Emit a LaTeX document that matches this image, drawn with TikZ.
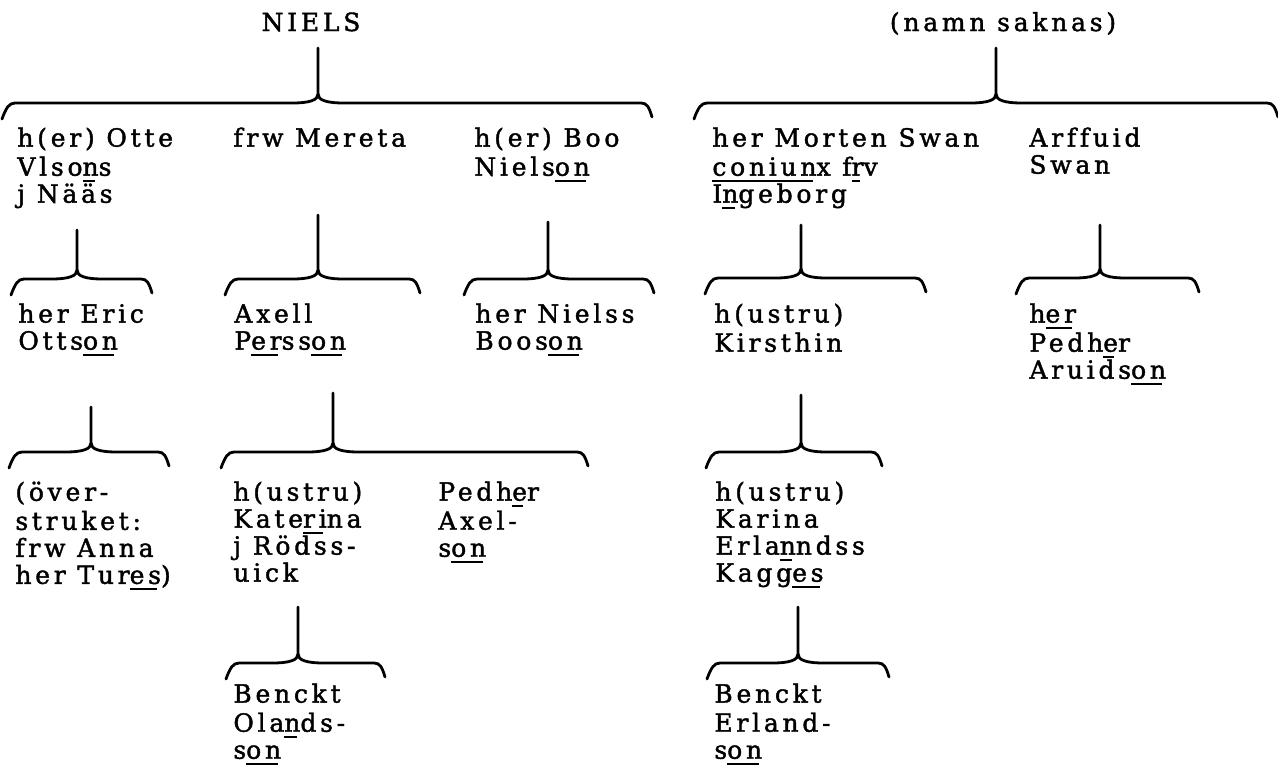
\documentclass[tikz,border=0pt]{standalone}
\usepackage{fontspec}
\setmainfont{DejaVu Serif}[LetterSpace=15,Ligatures=CommonOff,FakeBold=1.6]
\newcommand\un[1]{\setbox0\hbox{#1}\rlap{\rule[-3.2pt]{\dimexpr\wd0-1.8pt\relax}{1.2pt}}\box0}
\newcommand\fbrace[6]{%
  % #1 name, #2 left x, #3 right x, #4 stem x, #5 bar y, #6 stem top y
  \coordinate (#1-top) at (#4,#6);
  \coordinate (#1-cusp) at (#4,#5-9);
  \draw[brace] (#1-top) -- (#1-cusp)
    .. controls (#4,#5-3) and (#4-8,#5) .. (#4-26,#5) -- (#2+7,#5)
    .. controls (#2+1,#5) and (#2-2,#5+5) .. (#2-6,#5+16);
  \draw[brace] (#1-cusp)
    .. controls (#4,#5-3) and (#4+8,#5) .. (#4+26,#5) -- (#3-7,#5)
    .. controls (#3-1,#5) and (#3+1,#5+4) .. (#3+4,#5+14);
}
\begin{document}
\begin{tikzpicture}[x=0.5pt,y=-0.5pt,
  brace/.style={line width=1.4pt,line cap=round,line join=round},
  txt/.style={anchor=north west,inner sep=0pt,align=left,
    font=\fontsize{12.5}{13.5}\selectfont}]
\useasboundingbox (0,0) rectangle (1278,772);
\fill[white] (0,0) rectangle (1278,772);
\def\T#1#2#3#4{\node[txt] (#1) at (#2,#3-9.8) {\strut#4};}
% level 0
\node[anchor=base,inner sep=0pt,font=\fontsize{12.5}{13.5}\selectfont] (niels) at (311,31) {NIELS};
\node[anchor=base,inner sep=0pt,font=\fontsize{12.5}{13.5}\selectfont] (namn) at (1003,31) {(namn saknas)};
\fbrace{bA}{8}{648}{318}{103}{48}
\fbrace{bB}{700}{1274}{996}{103}{48}
% level 1
\T{otte}{17}{137}{h(er) Otte\\Vlso\un{n}s\\j Nääs}
\T{mereta}{233}{137}{frw Mereta}
\T{boo}{474}{137}{h(er) Boo\\Niels\un{on}}
\T{morten}{712}{137}{her Morten Swan\\\un{coniun}x f\un{r}v\\I\un{n}geborg}
\T{arffuid}{1029}{137}{Arffuid\\Swan}
% level 2 braces
\fbrace{b1}{17}{148}{77}{279}{230}
\fbrace{b2}{231}{416}{318}{279}{215}
\fbrace{b3}{470}{650}{548}{279}{222}
\fbrace{b4}{711}{922}{801}{278}{225}
\fbrace{b5}{1022}{1195}{1100}{278}{225}
% level 2
\T{eric}{18}{313}{her Eric\\Otts\un{on}}
\T{axell}{234}{313}{Axell\\P\un{er}ss\un{on}}
\T{nielss}{475}{313}{her Nielss\\Boos\un{on}}
\T{kirsthin}{714}{313}{h(ustru)\\Kirsthin}
\T{pedher}{1029}{313}{h\un{er}\\Pedh\un{e}r\\Aruids\un{on}}
% level 3 braces
\fbrace{c1}{15}{165}{91}{452}{407}
\fbrace{c2}{227}{584}{333}{452}{393}
\fbrace{c3}{712}{878}{801}{452}{395}
% level 3
\T{over}{15}{491}{(över-\\struket:\\frw Anna\\her Tur\un{es})}
\T{katerina}{233}{491}{h(ustru)\\Kate\un{ri}na\\j Rödss-\\uick}
\T{axelson}{438}{491}{Pedh\un{e}r\\Axel-\\s\un{on}}
\T{karina}{715}{491}{h(ustru)\\Karina\\Erla\un{n}ndss\\Kagg\un{es}}
% level 4 braces
\fbrace{d1}{232}{381}{298}{663}{607}
\fbrace{d2}{713}{885}{798}{663}{607}
% level 4
\T{benckt1}{233}{693}{Benckt\\Ola\un{n}ds-\\s\un{on}}
\T{benckt2}{714}{693}{Benckt\\Erland-\\s\un{on}}
\end{tikzpicture}
\end{document}
